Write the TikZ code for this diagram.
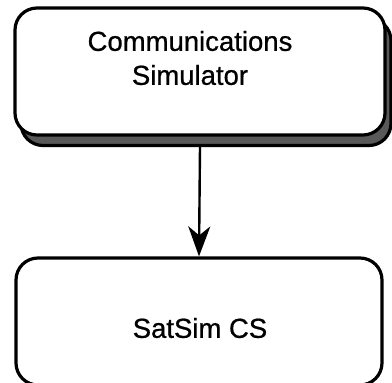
\documentclass[tikz,border=0pt]{standalone}
\usepackage{fontspec}
\setmainfont[FakeBold=0.7]{Liberation Sans}
\usetikzlibrary{arrows.meta}
\begin{document}
\begin{tikzpicture}[x=1pt,y=-1pt,
  roundbox/.style={draw=black, line width=3.2pt, rounded corners=22pt,
    fill=white, minimum width=#1, minimum height=127pt, inner sep=0pt},
  shadowbox/.style={draw=black, line width=3.2pt, rounded corners=22pt,
    fill=black!65, minimum width=370pt, minimum height=127pt, inner sep=0pt},
  label/.style={font=\fontsize{27.5}{34}\selectfont, align=center, inner sep=0pt},
  flow/.style={draw=black, line width=2.4pt,
    -{Stealth[length=30pt, width=22pt, inset=9pt]}}
]
\useasboundingbox (0,0) rectangle (392,383);
\clip (0,0) rectangle (392,383);

% upper block with its drop shadow
\node[shadowbox] (csshadow) at (206,82) {};
\node[roundbox=370pt] (cs) at (200,71.5) {};
\node[label] (cstext) at (190,58) {Communications\\Simulator};

% lower block
\node[roundbox=366pt] (sat) at (199,321.5) {};
\node[label] (sattext) at (200,328) {SatSim CS};

% connector
\draw[flow] (cs.south |- csshadow.south) -- (sat.north);
\end{tikzpicture}
\end{document}
